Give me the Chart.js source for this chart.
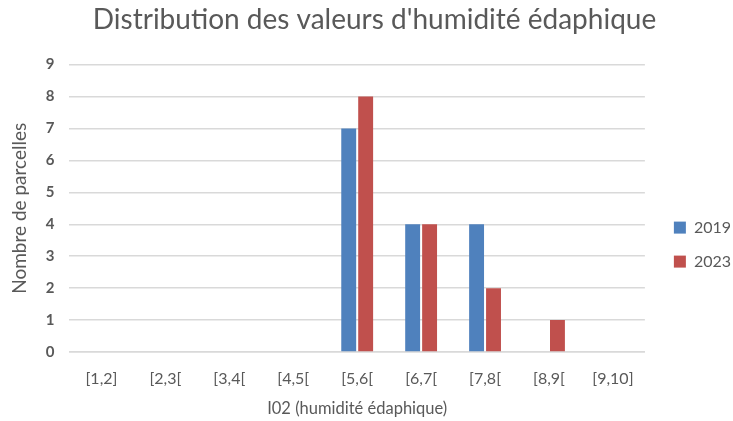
<!DOCTYPE html>
<html>
<head>
<meta charset="utf-8">
<script src="https://cdn.jsdelivr.net/npm/chart.js@4.4.1/dist/chart.umd.min.js"></script>
<style>
  html, body { margin: 0; padding: 0; background: #fff; }
  #wrap { width: 733px; height: 421px; }
</style>
</head>
<body>
<div id="wrap"><canvas id="chart"></canvas></div>
<script>
// Data
const categories = ['[1,2]', '[2,3[', '[3,4[', '[4,5[', '[5,6[', '[6,7[', '[7,8[', '[8,9[', '[9,10]'];
const values2019 = [0, 0, 0, 0, 7, 4, 4, 0, 0];
const values2023 = [0, 0, 0, 0, 8, 4, 2, 1, 0];
const yTicks = [0, 1, 2, 3, 4, 5, 6, 7, 8, 9];

const fontFamily = "Lato, 'Open Sans', sans-serif";
const textGrey = '#595959';

const ctx = document.getElementById('chart').getContext('2d');
new Chart(ctx, {
    type: 'bar',
    data: {
        labels: categories,
        datasets: [
            { label: '2019', data: values2019, backgroundColor: '#4f81bd' },
            { label: '2023', data: values2023, backgroundColor: '#c0504d' }
        ]
    },
    options: {
        responsive: true,
        maintainAspectRatio: false,
        animation: false,
        categoryPercentage: 0.53,
        barPercentage: 0.88,
        layout: { padding: { left: 8, right: -8, top: 3, bottom: 2 } },
        plugins: {
            title: {
                display: true,
                text: "Distribution des valeurs d'humidité édaphique",
                color: textGrey,
                font: { family: fontFamily, size: 28, weight: 'normal' },
                padding: { top: 0, bottom: 28 }
            },
            legend: {
                position: 'right',
                // empty legend title only pushes the items down, like the reference
                title: { display: true, text: '', padding: { top: 0, bottom: 66 }, font: { size: 1 } },
                labels: {
                    color: textGrey,
                    font: { family: fontFamily, size: 16 },
                    boxWidth: 12,
                    boxHeight: 12,
                    padding: 18
                }
            },
            tooltip: { enabled: false }
        },
        scales: {
            x: {
                grid: { display: false, drawTicks: false, tickLength: 0 },
                border: { display: true, color: '#d9d9d9', width: 1.5 },
                ticks: {
                    color: textGrey,
                    font: { family: fontFamily, size: 16 },
                    padding: 17,
                    maxRotation: 0,
                    autoSkip: false
                },
                title: {
                    display: true,
                    text: 'I02 (humidité édaphique)',
                    color: textGrey,
                    font: { family: fontFamily, size: 16.5 },
                    padding: { top: -6, bottom: 0 }
                }
            },
            y: {
                min: 0,
                max: 9,
                afterBuildTicks: function(axis) {
                    axis.ticks = yTicks.map(v => ({ value: v }));
                },
                grid: { color: '#d9d9d9', lineWidth: 1.5, drawTicks: false, tickLength: 0 },
                border: { display: false },
                ticks: {
                    color: textGrey,
                    font: { family: fontFamily, size: 15, weight: 'bold' },
                    padding: 15
                },
                title: {
                    display: true,
                    text: 'Nombre de parcelles',
                    color: textGrey,
                    font: { family: fontFamily, size: 19 },
                    padding: { top: 0, bottom: 0 }
                }
            },
            // blank spacer between plot and legend
            gap: {
                type: 'linear',
                position: 'right',
                display: true,
                grid: { display: false, drawTicks: false, tickLength: 0 },
                border: { display: false },
                ticks: { display: false },
                afterFit: function(scale) { scale.width = 11; }
            }
        }
    }
});
</script>
</body>
</html>
